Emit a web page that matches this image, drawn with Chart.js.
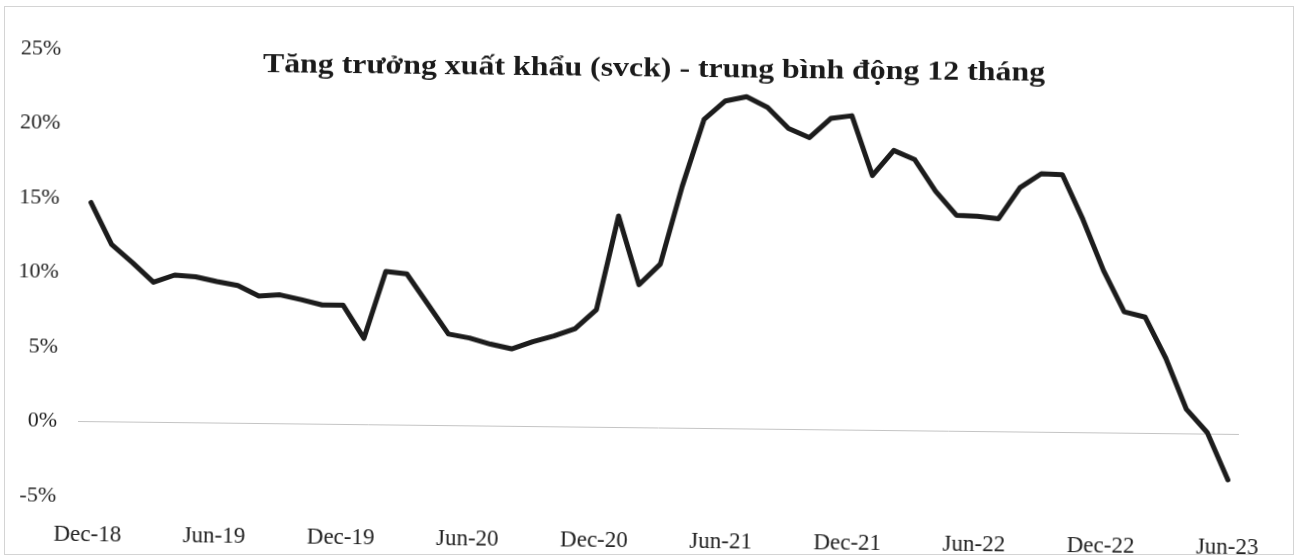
<!DOCTYPE html>
<html>
<head>
<meta charset="utf-8">
<script src="https://cdn.jsdelivr.net/npm/chart.js@4"></script>
<style>
  body { margin: 0; background: #fff; }
  #wrap { position: relative; width: 1297px; height: 558px; overflow: hidden; }
  #frame { position: absolute; left: 4px; top: 6px; width: 1288px; height: 547px; border: 1px solid #d4d4d4; }
  /* the scanned original sits slightly askew, about 0.64 degrees */
  #chart { position: absolute; left: 0; top: 0; transform-origin: 78px 422px; transform: rotate(0.64deg); }
</style>
</head>
<body>
<div id="wrap">
  <div id="frame"></div>
  <canvas id="chart" width="1297" height="558"></canvas>
</div>
<script>
const titleText = 'Tăng trưởng xuất khẩu (svck) - trung bình động 12 tháng'

const months = [
  'Dec-18',
  'Jan-19', 'Feb-19', 'Mar-19', 'Apr-19', 'May-19', 'Jun-19',
  'Jul-19', 'Aug-19', 'Sep-19', 'Oct-19', 'Nov-19', 'Dec-19',
  'Jan-20', 'Feb-20', 'Mar-20', 'Apr-20', 'May-20', 'Jun-20',
  'Jul-20', 'Aug-20', 'Sep-20', 'Oct-20', 'Nov-20', 'Dec-20',
  'Jan-21', 'Feb-21', 'Mar-21', 'Apr-21', 'May-21', 'Jun-21',
  'Jul-21', 'Aug-21', 'Sep-21', 'Oct-21', 'Nov-21', 'Dec-21',
  'Jan-22', 'Feb-22', 'Mar-22', 'Apr-22', 'May-22', 'Jun-22',
  'Jul-22', 'Aug-22', 'Sep-22', 'Oct-22', 'Nov-22', 'Dec-22',
  'Jan-23', 'Feb-23', 'Mar-23', 'Apr-23', 'May-23', 'Jun-23'
]

// % growth, 12-month moving average
const exportGrowth = [
  14.7,
  11.9, 10.7, 9.4, 9.9, 9.8, 9.5,
  9.25, 8.55, 8.65, 8.35, 8.0, 8.0,
  5.8, 10.3, 10.15, 8.15, 6.15, 5.9,
  5.5, 5.2, 5.7, 6.1, 6.6, 7.9,
  14.2, 9.6, 11.0, 16.25, 20.75, 22.0,
  22.3, 21.6, 20.2, 19.6, 20.9, 21.1,
  17.1, 18.8, 18.2, 16.1, 14.5, 14.45,
  14.3, 16.4, 17.35, 17.3, 14.3, 10.9,
  8.15, 7.8, 5.05, 1.65, 0.1, -3.05
]

const yMin = -5
const yMax = 25
const yStep = 5
const labelEvery = 6

const serif = "'Liberation Serif', 'Times New Roman', serif"

const chartTitle = {
  id: 'chartTitle',
  afterDraw (chart) {
    const ctx = chart.ctx
    ctx.save()
    ctx.fillStyle = '#1a1a1a'
    ctx.font = 'bold 27px ' + serif
    ctx.textAlign = 'center'
    ctx.textBaseline = 'alphabetic'
    ctx.translate(650, 70)
    ctx.scale(1.18, 1)
    ctx.fillText(titleText, 0, 0)
    ctx.restore()
  }
}

new Chart(
  document.getElementById('chart'),
  {
    type: 'line',
    data: {
      labels: months,
      datasets: [
        {
          label: titleText,
          data: exportGrowth,
          borderColor: '#1c1c1c',
          backgroundColor: '#1c1c1c',
          borderWidth: 5,
          borderJoinStyle: 'round',
          borderCapStyle: 'round',
          pointRadius: 0,
          tension: 0
        }
      ]
    },
    options: {
      responsive: false,
      animation: false,
      layout: { padding: { top: 49, right: 58, bottom: 0, left: 0 } },
      plugins: {
        legend: { display: false },
        title: { display: false },
        tooltip: { enabled: false }
      },
      scales: {
        x: {
          offset: true,
          grid: { display: false, drawTicks: false },
          border: { display: false },
          afterFit (scale) { scale.height = 62 },
          ticks: {
            autoSkip: false,
            maxRotation: 0,
            padding: 25,
            color: '#222',
            font: { family: serif, size: 23 },
            callback (value, index) {
              return index % labelEvery === 0 ? months[index] : null
            }
          }
        },
        y: {
          min: yMin,
          max: yMax,
          border: { display: false },
          afterFit (scale) { scale.width = 78 },
          grid: {
            drawTicks: false,
            lineWidth: 1,
            color: (c) => c.tick && c.tick.value === 0 ? '#c4c4c4' : 'rgba(0,0,0,0)'
          },
          ticks: {
            stepSize: yStep,
            padding: 21,
            color: '#222',
            font: { family: serif, size: 22 },
            callback: (v) => v + '%'
          }
        }
      }
    },
    plugins: [chartTitle]
  }
)
</script>
</body>
</html>
